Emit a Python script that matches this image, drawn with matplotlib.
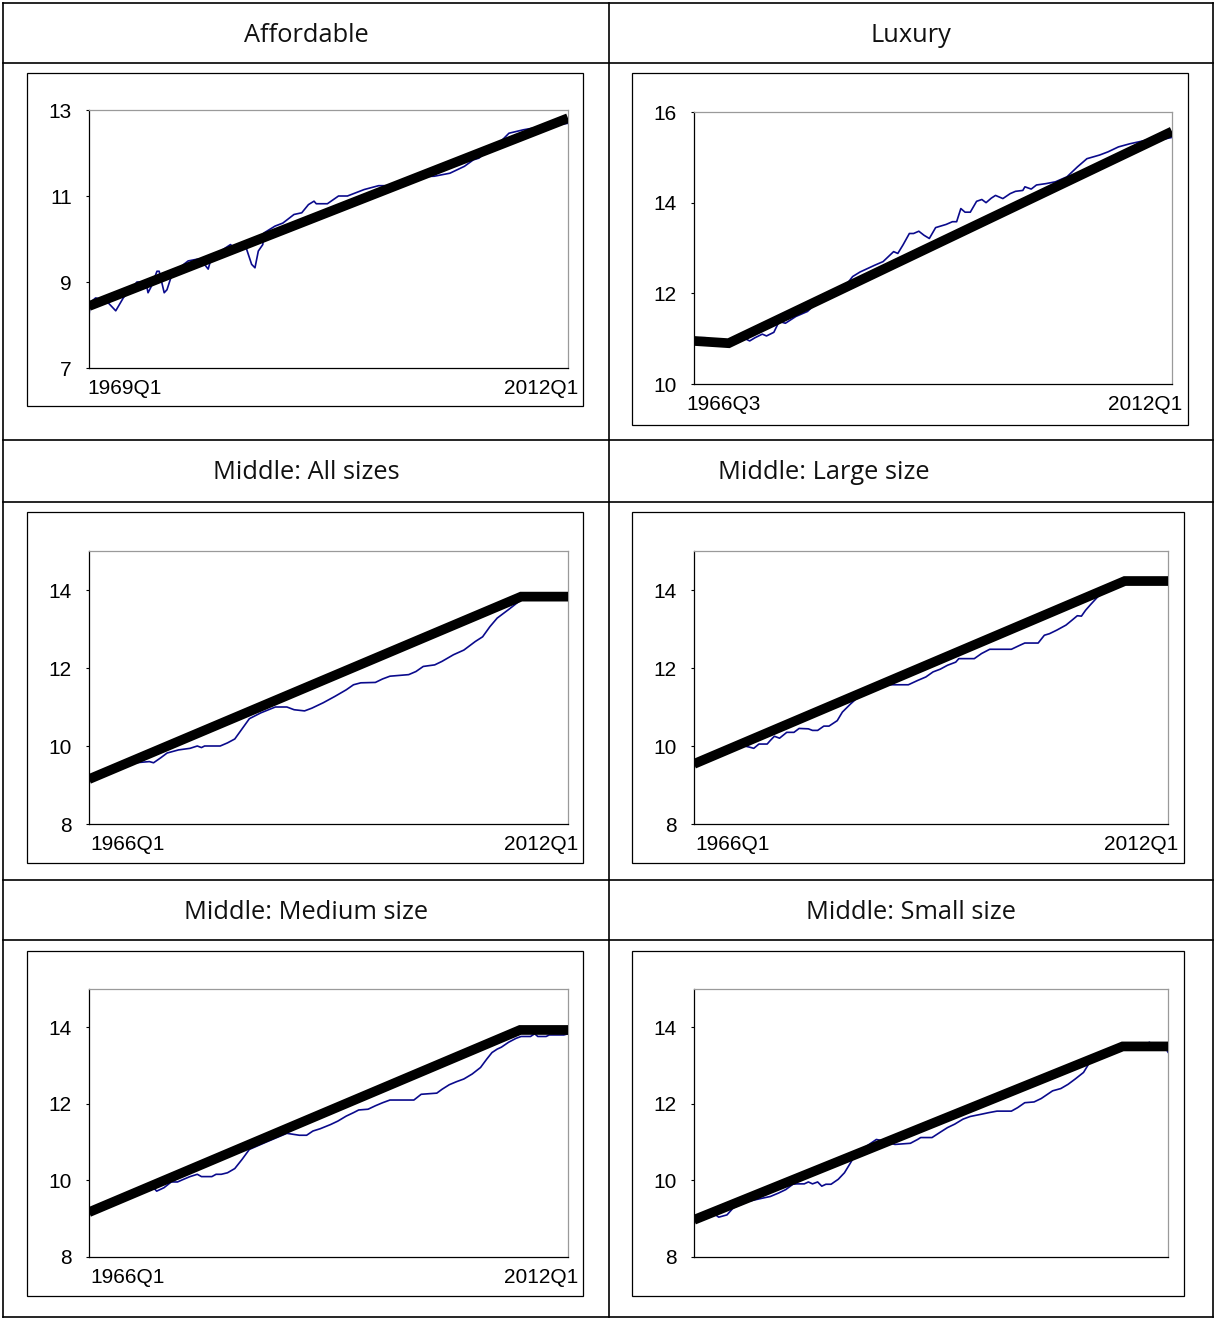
import numpy as np
from matplotlib import pyplot as plt
from matplotlib.lines import Line2D
from matplotlib.patches import Rectangle

W, H = 1214, 1319

titles = ["Affordable", "Luxury", "Middle: All sizes", "Middle: Large size",
          "Middle: Medium size", "Middle: Small size"]
first_label = ["1969Q1", "1966Q3", "1966Q1", "1966Q1", "1966Q1", None]
last_label = ["2012Q1", "2012Q1", "2012Q1", "2012Q1", "2012Q1", None]
x_start = [1969.0, 1966.5, 1966.0, 1966.0, 1966.0, 1966.0]
x_end = [2012.0, 2012.0, 2012.0, 2012.0, 2012.0, 2012.0]
y_ticks = [[7, 9, 11, 13], [10, 12, 14, 16], [8, 10, 12, 14],
           [8, 10, 12, 14], [8, 10, 12, 14], [8, 10, 12, 14]]
y_lims = [(7, 13), (10, 16), (8, 15), (8, 15), (8, 15), (8, 15)]

# trend (thick black) knots
trend_x = [
    [1969.0, 2012.0],
    [1966.5, 1969.8, 2012.0],
    [1966.0, 2007.5, 2012.0],
    [1966.0, 2007.8, 2012.0],
    [1966.0, 2007.4, 2012.0],
    [1966.0, 2007.6, 2012.0],
]
trend_y = [
    [8.44, 12.81],
    [10.95, 10.90, 15.57],
    [9.15, 13.83, 13.83],
    [9.54, 14.23, 14.23],
    [9.17, 13.93, 13.93],
    [8.97, 13.50, 13.50],
]

afford_t = [1969.0, 1969.1, 1969.6, 1970.0, 1970.6, 1971.4, 1972.1, 1972.8, 1973.3, 1974.1,
            1974.3, 1974.6, 1975.1, 1975.3, 1975.75, 1976.0, 1976.4, 1977.1, 1977.9, 1978.7,
            1979.0, 1979.7, 1980.0, 1981.0, 1981.7, 1982.0, 1983.1, 1983.6, 1983.9, 1984.2,
            1984.6, 1984.7, 1985.7, 1986.4, 1987.4, 1988.1, 1988.7, 1989.2, 1989.4, 1990.4,
            1991.4, 1992.2, 1993.7, 1995.0, 1996.0, 1997.5, 1999.0, 2000.0, 2001.4, 2002.7,
            2003.5, 2004.0, 2004.7, 2005.7, 2006.7, 2008.0, 2009.3, 2010.7, 2012.0]
afford_v = [8.21, 8.52, 8.63, 8.60, 8.55, 8.33, 8.64, 8.83, 9.00, 9.00,
            8.75, 8.90, 9.25, 9.25, 8.75, 8.82, 9.14, 9.33, 9.49, 9.53,
            9.53, 9.30, 9.58, 9.75, 9.87, 9.80, 9.80, 9.41, 9.33, 9.72,
            9.87, 10.14, 10.30, 10.37, 10.57, 10.61, 10.80, 10.88, 10.82, 10.82,
            11.00, 11.00, 11.15, 11.24, 11.24, 11.30, 11.45, 11.46, 11.53, 11.69,
            11.84, 11.88, 12.03, 12.20, 12.46, 12.54, 12.60, 12.65, 12.69]

luxury_t = [1966.5, 1967.1, 1967.6, 1968.0, 1969.8, 1970.1, 1970.5, 1971.2, 1971.8, 1972.3,
            1973.0, 1973.4, 1974.1, 1974.6, 1975.2, 1976.2, 1977.3, 1978.0, 1978.4, 1979.4,
            1980.5, 1981.6, 1982.3, 1983.7, 1984.5, 1985.0, 1985.5, 1985.9, 1986.4, 1987.0,
            1987.4, 1987.9, 1988.4, 1988.9, 1989.5, 1990.5, 1991.1, 1991.5, 1991.9, 1992.3,
            1992.8, 1993.4, 1993.9, 1994.3, 1994.8, 1995.2, 1995.9, 1996.6, 1997.1, 1997.8,
            1998.0, 1998.6, 1999.1, 2000.0, 2000.9, 2002.0, 2003.0, 2003.9, 2005.1, 2005.9,
            2006.9, 2008.0, 2009.0, 2010.1, 2011.4, 2012.0]
luxury_v = [10.95, 11.02, 11.02, 10.95, 10.90, 10.86, 10.95, 11.02, 10.95, 11.02,
            11.10, 11.06, 11.14, 11.38, 11.34, 11.49, 11.60, 11.75, 11.93, 12.00,
            12.04, 12.37, 12.47, 12.62, 12.70, 12.81, 12.92, 12.88, 13.07, 13.32,
            13.32, 13.37, 13.28, 13.21, 13.45, 13.52, 13.58, 13.58, 13.87, 13.79,
            13.79, 14.03, 14.07, 14.00, 14.10, 14.16, 14.09, 14.20, 14.25, 14.27,
            14.35, 14.30, 14.39, 14.42, 14.46, 14.57, 14.79, 14.97, 15.05, 15.12,
            15.23, 15.30, 15.35, 15.41, 15.41, 15.44]

all_t = [1966.0, 1968.0, 1970.0, 1971.8, 1972.2, 1972.9, 1973.5, 1974.6, 1975.7, 1976.4,
         1976.8, 1977.1, 1978.6, 1979.3, 1980.0, 1980.7, 1981.4, 1982.5, 1983.9, 1985.0,
         1985.7, 1986.7, 1987.4, 1988.5, 1989.6, 1990.7, 1991.4, 1992.1, 1993.5, 1994.2,
         1994.9, 1996.7, 1997.4, 1998.1, 1999.2, 1999.9, 2001.0, 2002.0, 2003.1, 2003.8,
         2004.5, 2005.2, 2006.3, 2007.5, 2009.0, 2010.5, 2012.0]
all_v = [9.15, 9.35, 9.56, 9.60, 9.57, 9.70, 9.82, 9.90, 9.94, 10.00,
         9.96, 10.00, 10.00, 10.08, 10.18, 10.44, 10.70, 10.85, 11.00, 11.00,
         10.93, 10.90, 10.97, 11.11, 11.27, 11.44, 11.57, 11.62, 11.63, 11.72,
         11.79, 11.83, 11.91, 12.04, 12.08, 12.17, 12.34, 12.46, 12.68, 12.80,
         13.06, 13.28, 13.50, 13.75, 13.78, 13.80, 13.80]

large_t = [1966.0, 1968.5, 1970.9, 1971.4, 1971.8, 1972.3, 1973.1, 1973.4, 1973.8, 1974.3,
           1975.0, 1975.7, 1976.2, 1977.1, 1977.5, 1978.0, 1978.6, 1979.1, 1979.9, 1980.4,
           1981.2, 1981.7, 1983.0, 1984.4, 1986.8, 1987.7, 1988.5, 1989.2, 1989.9, 1990.6,
           1991.4, 1991.7, 1993.2, 1993.9, 1994.7, 1996.8, 1997.6, 1998.1, 1999.4, 2000.0,
           2000.5, 2001.2, 2002.1, 2002.7, 2003.2, 2003.6, 2004.0, 2004.5, 2005.2, 2006.5,
           2008.0, 2010.0, 2012.0]
large_v = [9.54, 9.82, 10.00, 9.97, 9.94, 10.05, 10.05, 10.14, 10.25, 10.20,
           10.35, 10.35, 10.45, 10.44, 10.40, 10.40, 10.51, 10.51, 10.65, 10.87,
           11.08, 11.20, 11.40, 11.57, 11.57, 11.68, 11.77, 11.90, 11.97, 12.07,
           12.15, 12.24, 12.24, 12.37, 12.48, 12.48, 12.58, 12.64, 12.64, 12.84,
           12.88, 12.97, 13.10, 13.23, 13.34, 13.33, 13.48, 13.63, 13.83, 14.05,
           14.15, 14.18, 14.20]

medium_t = [1966.0, 1969.0, 1972.2, 1972.5, 1973.2, 1973.9, 1974.5, 1975.0, 1975.7, 1976.4,
            1976.8, 1977.8, 1978.2, 1978.7, 1979.3, 1980.0, 1980.7, 1981.4, 1983.0, 1985.0,
            1986.2, 1986.9, 1987.5, 1988.2, 1989.2, 1989.9, 1990.7, 1991.4, 1991.9, 1992.8,
            1993.5, 1994.2, 1994.9, 1997.2, 1997.9, 1999.4, 1999.9, 2000.6, 2001.3, 2002.0,
            2002.8, 2003.6, 2004.2, 2004.7, 2005.2, 2005.6, 2006.3, 2007.0, 2007.5, 2008.4,
            2008.8, 2009.1, 2009.9, 2010.2, 2011.6, 2012.0]
medium_v = [9.17, 9.50, 9.81, 9.72, 9.81, 9.96, 9.96, 10.02, 10.10, 10.16,
            10.10, 10.10, 10.16, 10.16, 10.20, 10.31, 10.55, 10.81, 11.00, 11.23,
            11.18, 11.18, 11.29, 11.35, 11.46, 11.55, 11.68, 11.77, 11.84, 11.86,
            11.95, 12.03, 12.10, 12.10, 12.25, 12.28, 12.38, 12.50, 12.58, 12.65,
            12.78, 12.95, 13.17, 13.34, 13.43, 13.48, 13.61, 13.71, 13.76, 13.76,
            13.83, 13.76, 13.76, 13.80, 13.80, 13.83]

small_t = [1966.0, 1967.0, 1968.1, 1968.4, 1969.2, 1969.8, 1971.2, 1972.7, 1973.4, 1974.2,
           1974.9, 1975.6, 1976.0, 1976.7, 1977.1, 1977.5, 1978.0, 1978.4, 1978.8, 1979.3,
           1980.0, 1980.6, 1981.1, 1981.5, 1982.5, 1983.7, 1984.4, 1985.5, 1987.0, 1987.7,
           1988.0, 1989.1, 1989.9, 1990.6, 1991.3, 1992.1, 1992.8, 1993.9, 1994.6, 1995.4,
           1996.8, 1997.4, 1998.1, 1999.0, 1999.7, 2000.8, 2001.6, 2002.3, 2003.0, 2003.8,
           2004.3, 2004.9, 2006.0, 2007.6, 2009.5, 2010.2, 2010.5, 2011.7, 2012.0]
small_v = [8.92, 9.06, 9.10, 9.04, 9.10, 9.28, 9.45, 9.54, 9.58, 9.67,
           9.76, 9.90, 9.91, 9.91, 9.96, 9.91, 9.96, 9.85, 9.90, 9.90,
           10.03, 10.20, 10.42, 10.60, 10.85, 11.07, 11.03, 10.94, 10.97, 11.07,
           11.12, 11.12, 11.26, 11.38, 11.47, 11.60, 11.67, 11.73, 11.77, 11.81,
           11.81, 11.90, 12.03, 12.05, 12.14, 12.34, 12.40, 12.51, 12.65, 12.82,
           13.04, 13.17, 13.30, 13.45, 13.50, 13.61, 13.48, 13.50, 13.35]

actual_t = [afford_t, luxury_t, all_t, large_t, medium_t, small_t]
actual_v = [afford_v, luxury_v, all_v, large_v, medium_v, small_v]


def frac(x0, y0, x1, y1):  # pixel box (from top-left) -> figure fraction rect
    return [x0 / W, 1 - y1 / H, (x1 - x0) / W, (y1 - y0) / H]


fig = plt.figure(figsize=(W / 100, H / 100), dpi=100)
fig.patch.set_facecolor("white")

# table grid and inner boxes
bg = fig.add_axes([0, 0, 1, 1])
bg.set_xlim(0, W)
bg.set_ylim(H, 0)
bg.axis("off")
for yy in [3, 63, 440, 502, 880, 940, 1317]:
    bg.add_line(Line2D([3, 1213], [yy, yy], color="black", lw=1.2))
for xx in [3, 609, 1213]:
    bg.add_line(Line2D([xx, xx], [3, 1317], color="black", lw=1.2))

boxes = [(27, 73, 583, 406), (632, 73, 1188, 425),
         (27, 512, 583, 863), (632, 512, 1184, 863),
         (27, 951, 583, 1296), (632, 951, 1184, 1296)]
for x0, y0, x1, y1 in boxes:
    bg.add_patch(Rectangle((x0, y0), x1 - x0, y1 - y0, fill=False, ec="black", lw=0.9))

title_pos = [(306, 42, "center"), (911, 42, "center"), (306, 479, "center"),
             (718, 479, "left"), (306, 919, "center"), (911, 919, "center")]
for (tx, ty, ha), t in zip(title_pos, titles):
    bg.text(tx, ty, t, ha=ha, va="baseline", fontsize=18.3, family="Open Sans", color="#111111")

axes_px = [(89, 110, 568, 368), (694, 112, 1172, 384),
           (89, 551, 568, 824), (694, 551, 1168, 824),
           (89, 989, 568, 1257), (694, 989, 1168, 1257)]
first_off = [-2, -8, 1, 1, 1, 0]

for i in range(6):
    ax = fig.add_axes(frac(*axes_px[i]))
    ax.plot(actual_t[i], actual_v[i], color="#0a0a8c", lw=1.2, zorder=2)
    ax.plot(trend_x[i], trend_y[i], color="black", lw=7.0, solid_capstyle="butt",
            solid_joinstyle="miter", zorder=3)
    ax.set_xlim(x_start[i], x_end[i])
    ax.set_ylim(*y_lims[i])
    ax.set_yticks(y_ticks[i])
    ax.set_yticklabels([str(v) for v in y_ticks[i]], family="Liberation Sans")
    ax.tick_params(axis="y", length=2.5, width=0.8, pad=10, labelsize=15, direction="out")
    ax.set_xticks([])
    for s in ["left", "bottom"]:
        ax.spines[s].set_color("black")
        ax.spines[s].set_linewidth(0.9)
    for s in ["top", "right"]:
        ax.spines[s].set_color("#9a9a9a")
        ax.spines[s].set_linewidth(0.9)
    if first_label[i]:
        ax.annotate(first_label[i], xy=(x_start[i], 0), xycoords=("data", "axes fraction"),
                    xytext=(first_off[i] * 0.72, -14.5), textcoords="offset points",
                    ha="left", va="center", fontsize=15, family="Liberation Sans")
        ax.annotate(last_label[i], xy=(x_end[i], 0), xycoords=("data", "axes fraction"),
                    xytext=(10 * 0.72, -14.5), textcoords="offset points",
                    ha="right", va="center", fontsize=15, family="Liberation Sans")

fig.savefig("out.png", dpi=100, facecolor="white")
